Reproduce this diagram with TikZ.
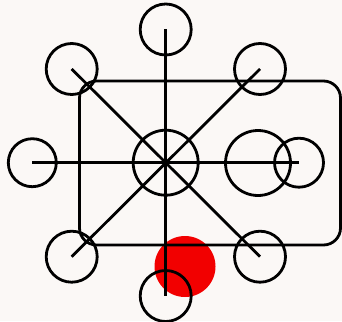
\documentclass[tikz,border=0pt]{standalone}
\definecolor{bg}{HTML}{FBF8F6}
\definecolor{redfill}{HTML}{F20000}
\begin{document}
\begin{tikzpicture}[x=1pt,y=-1pt,line width=2.8pt,
  ring/.style={circle,draw,inner sep=0pt,minimum size=#1},
  ring/.default=51pt]
\fill[bg] (0,0) rectangle (342,321);
\useasboundingbox (0,0) rectangle (342,321);
\node[circle,fill=redfill,inner sep=0pt,minimum size=61pt] (red) at (185,266.5) {};
\node[draw,rounded corners=17pt,inner sep=0pt,minimum width=261pt,minimum height=164pt] (box) at (210,163) {};
\node[ring=65pt] (c) at (165.7,162.7) {};
\node[ring] (t) at (165.7,29.5) {};
\node[ring] (b) at (165.7,296) {};
\node[ring=48pt] (l) at (32.3,162.7) {};
\node[ring=49pt] (r) at (299,162.7) {};
\node[ring=65pt] (rb) at (258,163) {};
\node[ring] (tl) at (71.7,69) {};
\node[ring] (tr) at (260,69) {};
\node[ring] (bl) at (71.7,256.7) {};
\node[ring] (br) at (260,256.7) {};
\draw (t.center) -- (b.center);
\draw (l.center) -- (r.center);
\draw (tl.center) -- (br.center);
\draw (bl.center) -- (tr.center);
\end{tikzpicture}
\end{document}
